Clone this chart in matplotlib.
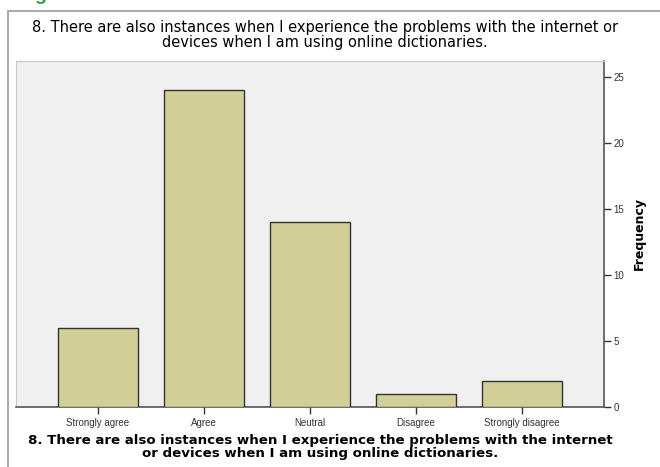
import matplotlib
matplotlib.use("Agg")
import matplotlib.pyplot as plt
from matplotlib.patches import Rectangle

plt.rcParams['font.family'] = ['Liberation Sans', 'DejaVu Sans']

# data (order as it appears in the picture, left to right)
categories = ['Strongly agree', 'Agree', 'Neutral', 'Disagree', 'Strongly disagree']
counts = [6, 24, 14, 1, 2]
yticks = [0, 5, 10, 15, 20, 25]

title = ('8. There are also instances when I experience the problems with the internet or\n'
         'devices when I am using online dictionaries.')
xlab = ('8. There are also instances when I experience the problems with the internet\n'
        'or devices when I am using online dictionaries.')

W, H = 660, 467
fig = plt.figure(figsize=(W / 100, H / 100), dpi=100)
fig.patch.set_facecolor('white')

# outer gray frame of the chart panel
fig.patches.append(Rectangle((8 / W, -0.05), 1.2, 1 - 11 / H + 0.05,
                             transform=fig.transFigure, fill=False,
                             edgecolor='#ababab', linewidth=1.5))

# cut-off green glyph at the top edge
fig.text(40 / W, 1 + 4 / H, 'g', color='#2e9e4f', fontsize=14, fontweight='bold',
         ha='center', va='center')

ax = fig.add_axes([16 / W, 1 - 407 / H, (604 - 16) / W, (407 - 61) / H])
ax.set_facecolor('#f0f0f0')

x = list(range(len(categories)))
ax.bar(x, counts, width=0.755, color='#d3cf98', edgecolor='#333333', linewidth=1.0, zorder=3)

ax.set_xlim(-0.774, len(categories) - 1 + 0.774)
ax.set_ylim(0, 26.2)

ax.yaxis.tick_right()
ax.yaxis.set_label_position('right')
ax.set_yticks(yticks)
ax.set_xticks(x)
ax.set_xticklabels(categories)
ax.tick_params(axis='both', labelsize=7, colors='#333333', length=5, width=1, direction='out')
ax.tick_params(axis='x', pad=3)
ax.tick_params(axis='y', pad=2)

for s in ['left', 'top']:
    ax.spines[s].set_color('#c8c8c8')
    ax.spines[s].set_linewidth(0.8)
for s in ['right', 'bottom']:
    ax.spines[s].set_color('#555555')
    ax.spines[s].set_linewidth(1.2)

ax.set_ylabel('Frequency', fontsize=9, fontweight='bold', rotation=90, labelpad=6,
              family='DejaVu Sans')

fig.text(325 / W, 1 - 35 / H, title, ha='center', va='center', fontsize=10.5,
         linespacing=1.0, family='DejaVu Sans')
fig.text(320 / W, 1 - 447 / H, xlab, ha='center', va='center', fontsize=9.6,
         fontweight='bold', linespacing=1.0, family='DejaVu Sans')

fig.savefig('out.png', dpi=100)
